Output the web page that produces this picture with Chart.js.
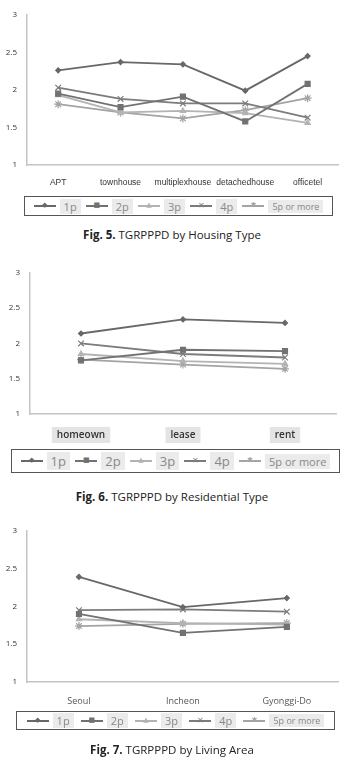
<!DOCTYPE html>
<html lang="en">
<head>
<meta charset="UTF-8">
<title>TGRPPPD figures</title>
<script src="https://cdn.jsdelivr.net/npm/chart.js"></script>
<style>
    body { margin: 0; width: 344px; height: 777px; background: #fff; position: relative; overflow: hidden; font-family: "Open Sans", "Noto Sans", sans-serif; }
    .box { position: absolute; }
    .legend { position: absolute; border: 1.5px solid #555; box-sizing: border-box; display: flex; align-items: center; justify-content: space-around; padding: 0 6px; }
    .item { display: flex; align-items: center; }
    .sample { position: relative; display: inline-block; width: 22px; height: 2px; margin-right: 4px; }
    .mark { position: absolute; left: 50%; top: 50%; transform: translate(-50%, -52%); font-family: "DejaVu Sans", sans-serif; line-height: 1; }
    .lab { background: #ebebeb; color: #888; padding: 0 4px; }
    .cap { position: absolute; left: 0; width: 344px; text-align: center; font-size: 11.5px; color: #222; line-height: 16px; }
</style>
</head>
<body>
<div class="box" id="w1" style="left:0;top:0;width:344px;height:195px"><canvas id="c1"></canvas></div>
<div class="legend" id="lg1" style="left:24px;top:196px;width:309px;height:20px"></div>
<div class="cap" style="top:227px"><b>Fig. 5.</b> TGRPPPD by Housing Type</div>

<div class="box" id="w2" style="left:0;top:258px;width:344px;height:186px"><canvas id="c2"></canvas></div>
<div class="legend" id="lg2" style="left:11px;top:449px;width:329px;height:24px"></div>
<div class="cap" style="top:489px"><b>Fig. 6.</b> TGRPPPD by Residential Type</div>

<div class="box" id="w3" style="left:0;top:516px;width:344px;height:196px"><canvas id="c3"></canvas></div>
<div class="legend" id="lg3" style="left:16px;top:711px;width:319px;height:19px"></div>
<div class="cap" style="top:742px"><b>Fig. 7.</b> TGRPPPD by Living Area</div>

<script>
// series names
const seriesNames = ['1p', '2p', '3p', '4p', '5p or more'];
const yTicks = [1, 1.5, 2, 2.5, 3];

// Fig. 5 - housing type
const housingTypes = ['APT', 'townhouse', 'multiplexhouse', 'detachedhouse', 'officetel'];
const housing1p = [2.26, 2.37, 2.34, 1.99, 2.45];
const housing2p = [1.95, 1.77, 1.91, 1.58, 2.08];
const housing3p = [1.93, 1.70, 1.72, 1.69, 1.56];
const housing4p = [2.03, 1.88, 1.82, 1.82, 1.63];
const housing5p = [1.81, 1.70, 1.62, 1.73, 1.89];

// Fig. 6 - residential type
const residentialTypes = ['homeown', 'lease', 'rent'];
const resid1p = [2.14, 2.34, 2.29];
const resid2p = [1.76, 1.91, 1.89];
const resid3p = [1.85, 1.75, 1.71];
const resid4p = [2.00, 1.85, 1.80];
const resid5p = [1.77, 1.70, 1.64];

// Fig. 7 - living area
const livingAreas = ['Seoul', 'Incheon', 'Gyonggi-Do'];
const area1p = [2.39, 1.99, 2.11];
const area2p = [1.90, 1.65, 1.73];
const area3p = [1.83, 1.78, 1.76];
const area4p = [1.95, 1.96, 1.93];
const area5p = [1.74, 1.77, 1.78];

const colores = ['#686868', '#727272', '#b3b3b3', '#7c7c7c', '#a4a4a4'];
const estilos = ['rectRot', 'rect', 'triangle', 'crossRot', 'star'];
const radios = [2.5, 3.5, 3, 4, 4];
const marcas = ['◆', '■', '▲', '✕', '✱'];

function armarDatasets(series) {
    return series.map((d, i) => ({
        label: seriesNames[i],
        data: d,
        borderColor: colores[i],
        backgroundColor: colores[i],
        borderWidth: 1.8,
        pointStyle: estilos[i],
        pointRadius: radios[i],
        pointBorderWidth: 1.2,
        tension: 0
    }));
}

function crearGrafica(id, labels, series, cfg) {
    new Chart(document.getElementById(id), {
        type: 'line',
        data: { labels: labels, datasets: armarDatasets(series) },
        options: {
            responsive: true,
            maintainAspectRatio: false,
            animation: false,
            layout: { padding: { top: cfg.top, right: cfg.right, left: 0, bottom: 0 } },
            plugins: { legend: { display: false }, tooltip: { enabled: false } },
            scales: {
                x: {
                    offset: true,
                    grid: { display: false, drawTicks: false },
                    border: { display: true, color: '#c4c4c4', width: 1.5 },
                    afterFit: s => { s.height = 30; },
                    ticks: {
                        padding: cfg.xPad,
                        color: cfg.xColor,
                        font: { family: cfg.xFont, size: cfg.xSize, weight: cfg.xWeight },
                        showLabelBackdrop: cfg.backdrop,
                        backdropColor: '#e4e4e4',
                        backdropPadding: { x: 5, y: 2 },
                        maxRotation: 0,
                        autoSkip: false
                    }
                },
                y: {
                    min: 1, max: 3,
                    afterBuildTicks: s => { s.ticks = yTicks.map(v => ({ value: v })); },
                    afterFit: s => { s.width = cfg.left; },
                    grid: { display: false, drawTicks: false },
                    border: { display: true, color: '#c4c4c4', width: 1.5 },
                    ticks: {
                        padding: 10,
                        color: '#333',
                        font: { family: 'Open Sans', size: 8 },
                        callback: v => String(v)
                    }
                }
            }
        }
    });
}

function armarLeyenda(id, size, smallSize) {
    const el = document.getElementById(id);
    seriesNames.forEach((n, i) => {
        const fs = i === 4 ? smallSize : size;
        el.innerHTML += `<span class="item"><span class="sample" style="background:${colores[i]}">` +
            `<span class="mark" style="color:${colores[i]};font-size:${i === 3 ? 8 : 7}px">${marcas[i]}</span></span>` +
            `<span class="lab" style="font-size:${fs}px">${n}</span></span>`;
    });
}

crearGrafica('c1', housingTypes, [housing1p, housing2p, housing3p, housing4p, housing5p],
    { top: 13, right: 4, left: 27, xPad: 13, xSize: 8.5, xFont: 'Liberation Sans', xColor: '#333', xWeight: 'normal', backdrop: false });
crearGrafica('c2', residentialTypes, [resid1p, resid2p, resid3p, resid4p, resid5p],
    { top: 14, right: 8, left: 30, xPad: 15, xSize: 10, xFont: 'Open Sans', xColor: '#333', xWeight: '600', backdrop: true });
crearGrafica('c3', livingAreas, [area1p, area2p, area3p, area4p, area5p],
    { top: 13, right: 3, left: 27, xPad: 14, xSize: 9, xFont: 'Open Sans', xColor: '#555', xWeight: 'normal', backdrop: false });

armarLeyenda('lg1', 11, 9);
armarLeyenda('lg2', 13, 11);
armarLeyenda('lg3', 11, 9);
</script>
</body>
</html>
